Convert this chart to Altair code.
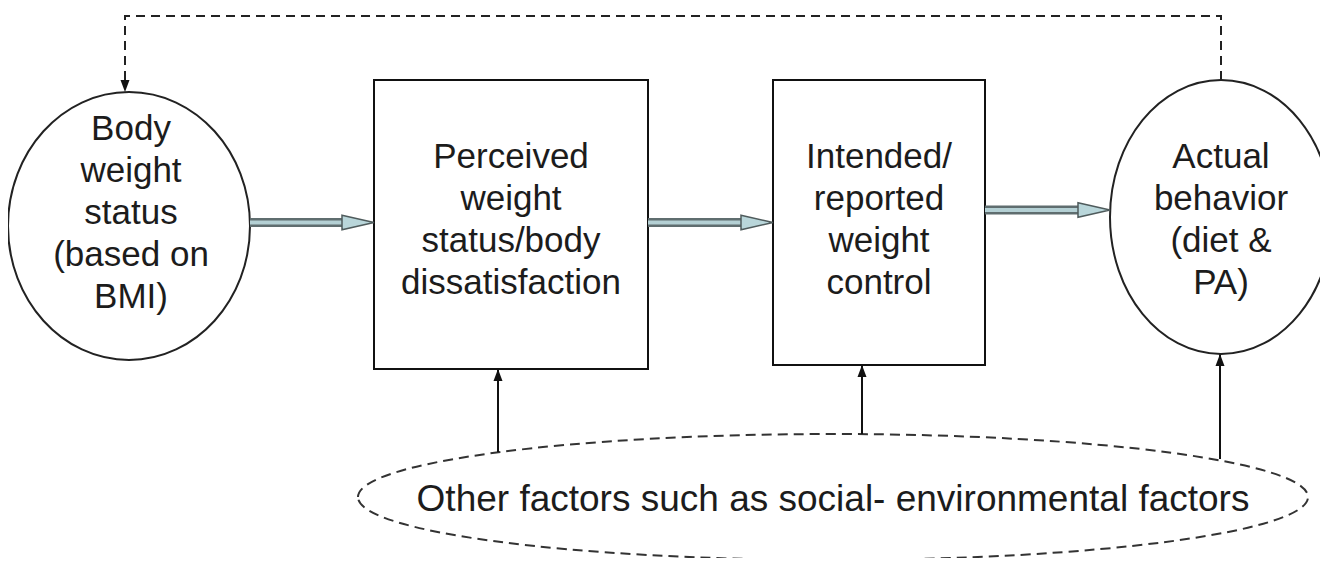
import altair as alt
import pandas as pd

# ---------------- diagram content ----------------
body_lines = ["Body", "weight", "status", "(based on", "BMI)"]
perceived_lines = ["Perceived", "weight", "status/body", "dissatisfaction"]
intended_lines = ["Intended/", "reported", "weight", "control"]
actual_lines = ["Actual", "behavior", "(diet &", "PA)"]
other_text = "Other factors such as social- environmental factors"

# node geometry (image pixel coordinates)
box_x1 = [374, 773]
box_x2 = [648, 985]
box_y1 = [80, 80]
box_y2 = [369, 365]

ell_cx = [129, 1221, 833]
ell_cy = [226, 217, 497]
ell_rx = [121, 111, 475]
ell_ry = [134, 137, 63]
ell_dash = [False, False, True]

body_base = [140, 182, 224, 266, 308]
box_base = [168, 210, 252, 294]
actual_base = [168, 210, 252, 294]

# thick arrows: start, tip, y
thick_x1 = [250, 648, 985]
thick_tip = [374, 773, 1110]
thick_y = [222.5, 222.5, 210]

# vertical arrows from the "other factors" ellipse
vert_x = [498, 862, 1220]
vert_from = [452, 434, 459]
vert_to = [369, 365, 354]

# dashed feedback connector
fb_x = [1221, 1221, 125, 125]
fb_y = [80, 16, 16, 86]

FONT = "Liberation Sans"
TXT = "#1c1c1c"

xs = alt.Scale(domain=[8, 1320], nice=False, zero=False)
ys = alt.Scale(domain=[8, 558], reverse=True, nice=False, zero=False)


def X(f="x", **kw):
    return alt.X(f"{f}:Q", scale=xs, axis=None, **kw)


def Y(f="y", **kw):
    return alt.Y(f"{f}:Q", scale=ys, axis=None, **kw)


def ellipse_path(a):
    k = 0.5523
    return (f"M -1 0 C -1 {-k*a:.4f} {-k} {-a:.4f} 0 {-a:.4f} "
            f"C {k} {-a:.4f} 1 {-k*a:.4f} 1 0 "
            f"C 1 {k*a:.4f} {k} {a:.4f} 0 {a:.4f} "
            f"C {-k} {a:.4f} -1 {k*a:.4f} -1 0 Z")


ell_df = pd.DataFrame({
    "x": ell_cx, "y": ell_cy,
    "shape": [ellipse_path(ry / rx) for rx, ry in zip(ell_rx, ell_ry)],
    "size": [(2 * rx) ** 2 for rx in ell_rx],
    "dash": ell_dash,
})

solid_ell = alt.Chart(ell_df[~ell_df.dash]).mark_point(
    filled=False, fill="white", fillOpacity=1, stroke="#222222", strokeWidth=2, opacity=1
).encode(x=X(), y=Y(), shape=alt.Shape("shape:N", scale=None),
         size=alt.Size("size:Q", scale=None))

dash_ell = alt.Chart(ell_df[ell_df.dash]).mark_point(
    filled=False, stroke="#333333", strokeWidth=2, strokeDash=[10, 6], opacity=1
).encode(x=X(), y=Y(), shape=alt.Shape("shape:N", scale=None),
         size=alt.Size("size:Q", scale=None))

box_df = pd.DataFrame({"x": box_x1, "x2": box_x2, "y": box_y1, "y2": box_y2})
boxes = alt.Chart(box_df).mark_rect(fill="white", stroke="#111111", strokeWidth=2).encode(
    x=X(), x2="x2:Q", y=Y(), y2="y2:Q")

# thick double arrows
thick_df = pd.DataFrame({"x": thick_x1, "x2": [t - 28 for t in thick_tip], "y": thick_y,
                         "hx": [t - 16 for t in thick_tip]})
shaft_outer = alt.Chart(thick_df).mark_rule(color="#5f6d6f", strokeWidth=9, strokeCap="butt").encode(
    x=X(), x2="x2:Q", y=Y())
shaft_inner = alt.Chart(thick_df).mark_rule(color="#b4d0d4", strokeWidth=4, strokeCap="butt").encode(
    x=X(), x2="x2:Q", y=Y())
heads = alt.Chart(thick_df).mark_point(
    shape="M -1 -0.45 L 1 0 L -1 0.45 Z", size=1024, filled=True, fill="#b9d6da",
    stroke="#4f5b5c", strokeWidth=1.5, opacity=1
).encode(x=X("hx"), y=Y())

# vertical arrows
vert_df = pd.DataFrame({"x": vert_x, "y": vert_from, "y2": vert_to,
                        "hy": [t + 6 for t in vert_to]})
vrules = alt.Chart(vert_df).mark_rule(color="#111111", strokeWidth=2).encode(
    x=X(), y=Y(), y2="y2:Q")
vheads = alt.Chart(vert_df).mark_point(
    shape="M 0 -1 L 0.75 1 L -0.75 1 Z", size=144, filled=True, color="#111111", opacity=1
).encode(x=X(), y=Y("hy"))

# dashed feedback connector
fb_df = pd.DataFrame({"x": fb_x, "y": fb_y, "o": list(range(len(fb_x)))})
fb_line = alt.Chart(fb_df).mark_line(color="#222222", strokeWidth=2, strokeDash=[9, 6]).encode(
    x=X(), y=Y(), order="o:Q")
fb_head = alt.Chart(pd.DataFrame({"x": [fb_x[-1]], "y": [fb_y[-1]]})).mark_point(
    shape="M -0.75 -1 L 0.75 -1 L 0 1 Z", size=144, filled=True, color="#111111", opacity=1
).encode(x=X(), y=Y())

# texts
rows = []
for t, b in zip(body_lines, body_base):
    rows.append((t, ell_cx[0] + 2, b, 35))
cx1 = (box_x1[0] + box_x2[0]) / 2
for t, b in zip(perceived_lines, box_base):
    rows.append((t, cx1, b, 35))
cx2 = (box_x1[1] + box_x2[1]) / 2
for t, b in zip(intended_lines, box_base):
    rows.append((t, cx2, b, 35))
for t, b in zip(actual_lines, actual_base):
    rows.append((t, ell_cx[1], b, 35))
rows.append((other_text, ell_cx[2], 511, 37))
txt_df = pd.DataFrame(rows, columns=["text", "x", "y", "fs"])
texts = alt.Chart(txt_df).mark_text(font=FONT, color=TXT, align="center", baseline="alphabetic").encode(
    x=X(), y=Y(), text="text:N", size=alt.Size("fs:Q", scale=None))

chart = alt.layer(
    dash_ell, vrules, vheads, solid_ell, boxes, fb_line, fb_head,
    shaft_outer, shaft_inner, heads, texts
).properties(
    width=1312, height=550, padding=0, autosize=alt.AutoSizeParams(type="none"),
    background="white"
).configure_view(stroke=None)

chart.save("out.html", embed_options={"renderer": "svg", "actions": False})
